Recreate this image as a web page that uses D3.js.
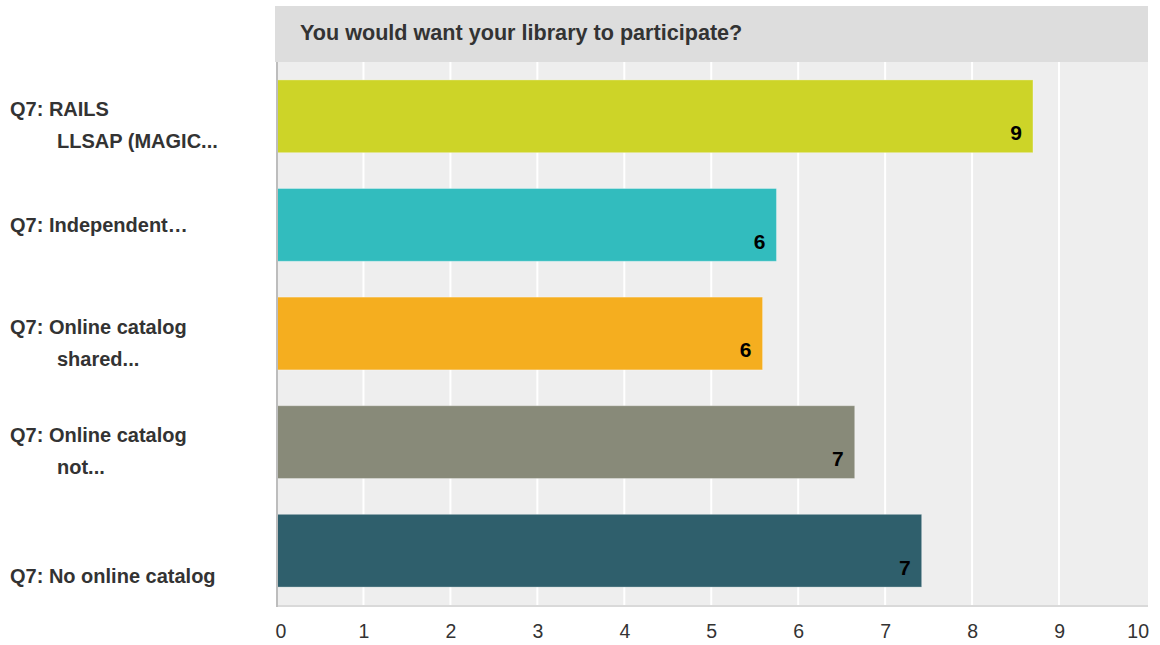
<!DOCTYPE html>
<html>
<head>
<meta charset="utf-8">
<script src="https://cdn.jsdelivr.net/npm/d3@7"></script>
<style>
  body { margin: 0; background: #fff; }
  svg text { font-family: "Liberation Sans", Arial, Helvetica, sans-serif; }
</style>
</head>
<body>
<svg id="chart" width="1160" height="645"></svg>
<script>
// Survey results: average rating per answer option
const title = "You would want your library to participate?";
const categories = [
  "Q7: RAILS\nLLSAP (MAGIC...",
  "Q7: Independent…",
  "Q7: Online catalog\nshared...",
  "Q7: Online catalog\nnot...",
  "\nQ7: No online catalog"
];
const values = [8.70, 5.75, 5.59, 6.65, 7.42];
const barColors = ["#cdd428", "#32bcbe", "#f5ae1f", "#888a79", "#2f5f6c"];
const tickValues = [0, 1, 2, 3, 4, 5, 6, 7, 8, 9, 10];

const svg = d3.select("#chart");
const plot = { left: 276.5, right: 1146, top: 62, bottom: 605, edge: 1148 };

const x = d3.scaleLinear().domain([0, 10]).range([plot.left, plot.right]);
const y = d3.scaleBand()
  .domain(d3.range(categories.length))
  .range([plot.top, plot.bottom])
  .paddingInner(0.33)
  .paddingOuter(0.165);

// Title band
svg.append("rect")
  .attr("x", 275).attr("y", 6)
  .attr("width", plot.edge - 275).attr("height", plot.top - 6)
  .attr("fill", "#dddddd");
svg.append("text")
  .attr("x", 300).attr("y", 39.5)
  .attr("font-size", "21.6px").attr("font-weight", "bold")
  .attr("fill", "#333")
  .text(title);

// Plot background
svg.append("rect")
  .attr("x", 276).attr("y", plot.top)
  .attr("width", plot.edge - 276).attr("height", plot.bottom - plot.top)
  .attr("fill", "#eeeeee");

// Vertical gridlines
svg.append("g")
  .selectAll("line")
  .data(tickValues.filter(t => t > 0 && t < 10))
  .join("line")
  .attr("x1", d => x(d)).attr("x2", d => x(d))
  .attr("y1", plot.top).attr("y2", plot.bottom)
  .attr("stroke", "#ffffff").attr("stroke-width", 2);

// Bars
svg.append("g")
  .selectAll("rect")
  .data(values)
  .join("rect")
  .attr("x", x(0))
  .attr("y", (d, i) => y(i))
  .attr("width", d => x(d) - x(0))
  .attr("height", y.bandwidth())
  .attr("fill", (d, i) => barColors[i])
  .attr("stroke", "#ffffff").attr("stroke-opacity", 0.3).attr("stroke-width", 1);

// Value labels inside the bar ends
const fmt = d3.format(".0f");
svg.append("g")
  .selectAll("text")
  .data(values)
  .join("text")
  .attr("x", d => x(d) - 11)
  .attr("y", (d, i) => y(i) + y.bandwidth() - 12.5)
  .attr("text-anchor", "end")
  .attr("font-size", "21px").attr("font-weight", "bold")
  .attr("fill", "#000")
  .text(d => fmt(d));

// Axis lines
svg.append("line")
  .attr("x1", 276).attr("x2", plot.edge)
  .attr("y1", plot.bottom + 1).attr("y2", plot.bottom + 1)
  .attr("stroke", "#d9d9d9").attr("stroke-width", 2);
svg.append("line")
  .attr("x1", 277).attr("x2", 277)
  .attr("y1", plot.top).attr("y2", plot.bottom + 2)
  .attr("stroke", "#bdbdbd").attr("stroke-width", 2);

// Bottom axis labels
const xAxis = svg.append("g")
  .attr("transform", `translate(0,${plot.bottom})`)
  .call(d3.axisBottom(x).tickValues(tickValues).tickSize(0).tickPadding(19.5));
xAxis.select(".domain").remove();
xAxis.selectAll("text")
  .attr("font-size", "19.5px")
  .attr("font-family", null)
  .attr("fill", "#333")
  .attr("text-anchor", d => d === 0 ? "start" : d === 10 ? "end" : "middle")
  .attr("x", d => d === 0 ? -1.5 : d === 10 ? plot.edge - x(10) + 0.5 : 0);

// Category labels, left aligned, continuation lines indented
const labelX = 10, indent = 47, lineStep = 32;
const yAxis = svg.append("g")
  .call(d3.axisLeft(y).tickSize(0).tickFormat(""));
yAxis.select(".domain").remove();
yAxis.selectAll(".tick text").each(function (i) {
  const lines = categories[i].split("\n");
  const firstFilled = lines.findIndex(s => s.length > 0);
  const t = d3.select(this)
    .attr("x", null).attr("dy", null)
    .attr("text-anchor", "start")
    .attr("font-size", "20px").attr("font-weight", "bold")
    .attr("font-family", null)
    .attr("fill", "#333");
  lines.forEach((s, k) => {
    t.append("tspan")
      .attr("x", labelX + (k > firstFilled ? indent : 0))
      .attr("y", lines.length === 1 ? 7 : k * lineStep)
      .text(s);
  });
});
</script>
</body>
</html>
